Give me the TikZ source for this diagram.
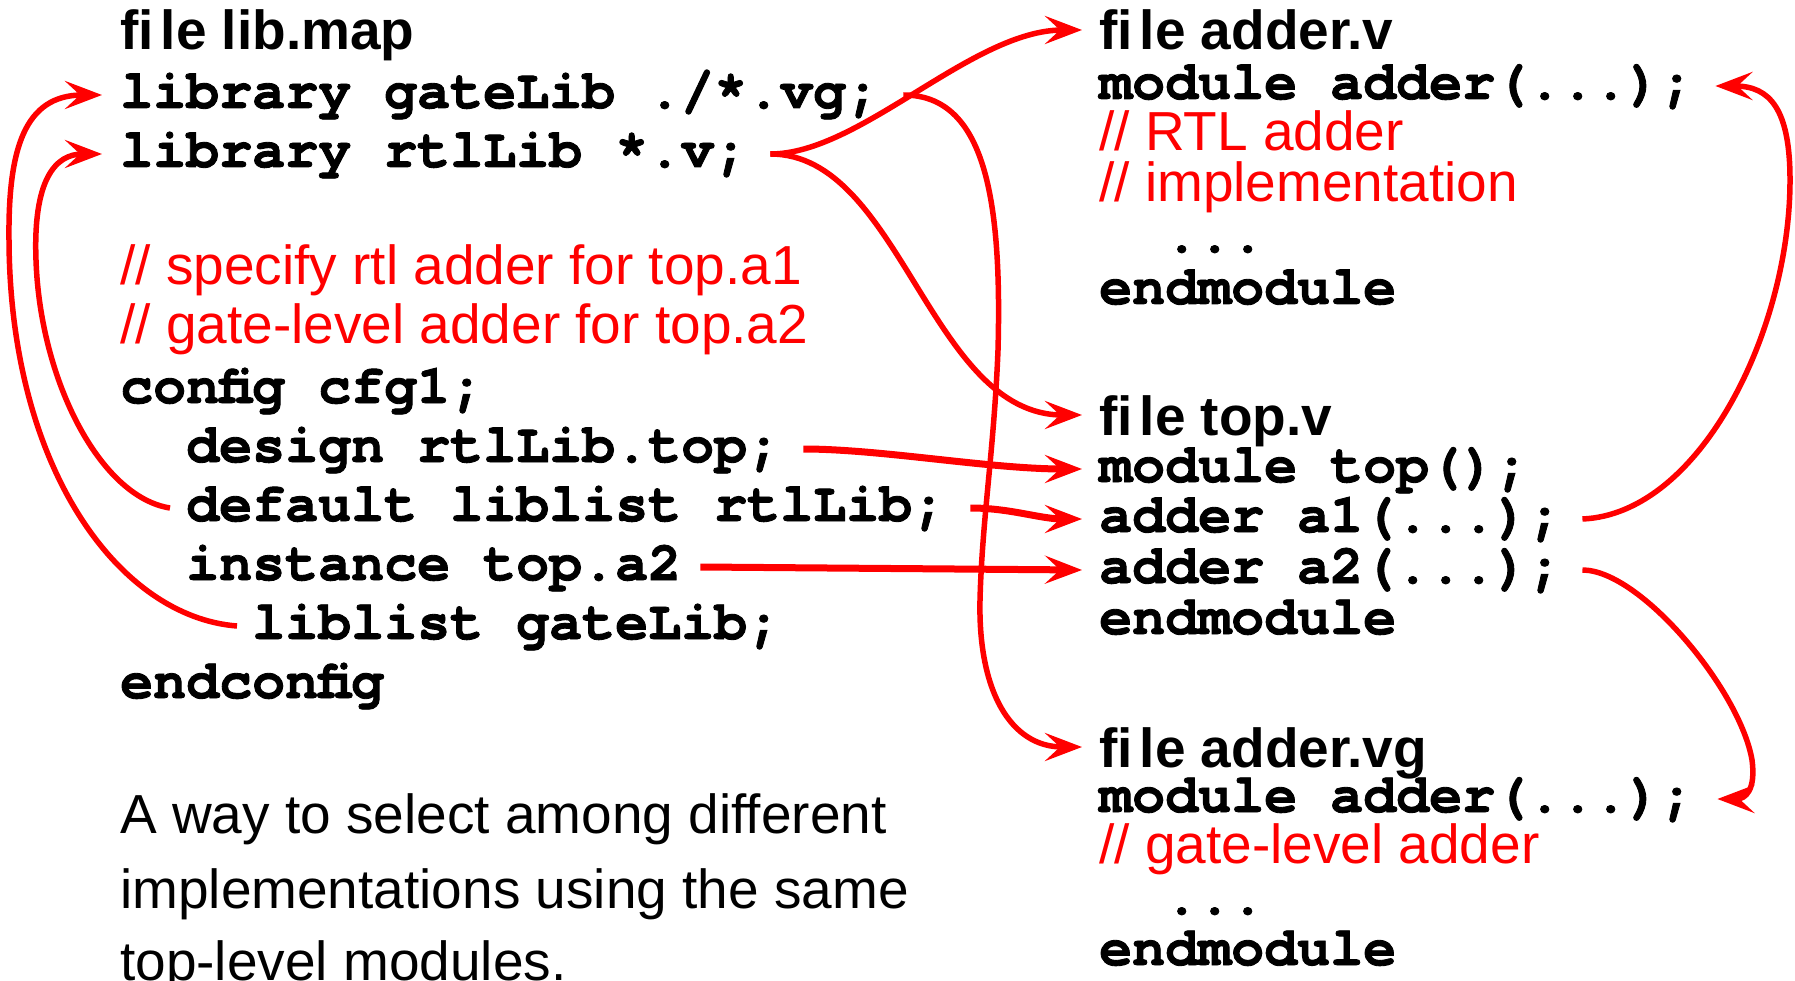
\documentclass[tikz,border=0pt]{standalone}
\usepackage{fontspec}
\usetikzlibrary{arrows.meta}
\IfFontExistsTF{texgyrecursor-bold.otf}
  {\newfontfamily\codefont{texgyrecursor-bold.otf}[FakeBold=1.6]}
  {\newfontfamily\codefont{Liberation Mono}[UprightFont={* Bold}]}
\newfontfamily\sansfnt{Liberation Sans}
\tikzset{
  code/.style={font=\codefont\fontsize{55}{60}\selectfont, inner sep=0pt, anchor=base west, text height=26pt, text depth=0pt},
  ftitle/.style={font=\sansfnt\bfseries\fontsize{55}{60}\selectfont, inner sep=0pt, anchor=base west, text height=40pt, text depth=0pt},
  cmt/.style={font=\sansfnt\fontsize{55}{60}\selectfont, text=red, inner sep=0pt, anchor=base west, text height=40pt, text depth=0pt},
  prose/.style={font=\sansfnt\fontsize{55}{60}\selectfont, inner sep=0pt, anchor=base west},
  link/.style={draw=red, line width=5.5pt, -{Stealth[length=37pt,width=28pt,inset=15pt]}},
  boldlink/.style={link, line width=7pt}
}
\begin{document}
\begin{tikzpicture}[x=1pt,y=-1pt]
\fill[white] (0,0) rectangle (1795,981);
\useasboundingbox (0,0) rectangle (1795,981);
% left column
\node[ftitle] (tlib) at (120,50) {fi\kern7pt le lib.map};
\node[code] (lg) at (120,108) {library gateLib ./*.vg;};
\node[code] (lr) at (120,167) {library rtlLib *.v;};
\node[cmt] (c1) at (120,285) {// specify rtl adder for top.a1};
\node[cmt] (c2) at (120,344) {// gate-level adder for top.a2};
\node[code] (cfg) at (120,403) {config cfg1;};
\node[code] (des) at (186,462) {design rtlLib.top;};
\node[code] (def) at (186,521) {default liblist rtlLib;};
\node[code] (inst) at (186,580) {instance top.a2};
\node[code] (ll) at (252,639) {liblist gateLib;};
\node[code] (endc) at (120,698) {endconfig};
\node[prose] (p1) at (120,833) {A way to select among different};
\node[prose] (p2) at (120,908) {implementations using the same};
\node[prose] (p3) at (120,980) {top-level modules.};
% right column
\node[ftitle] (tav) at (1099,50) {fi\kern7pt le adder.v};
\node[code] (mav) at (1099,99) {module adder(...);};
\node[cmt] (rtla) at (1099,151) {// RTL adder};
\node[cmt] (rtlb) at (1099,202) {// implementation};
\node[code] (dotsa) at (1165,252) {...};
\node[code] (ema) at (1099,304) {endmodule};
\node[ftitle] (ttop) at (1099,435) {fi\kern7pt le top.v};
\node[code] (mtop) at (1099,482) {module top();};
\node[code] (aone) at (1099,532) {adder a1(...);};
\node[code] (atwo) at (1099,583) {adder a2(...);};
\node[code] (emb) at (1099,634) {endmodule};
\node[ftitle] (tavg) at (1099,767) {fi\kern7pt le adder.vg};
\node[code] (mavg) at (1099,812) {module adder(...);};
\node[cmt] (gla) at (1099,863) {// gate-level adder};
\node[code] (dotsb) at (1165,914) {...};
\node[code] (emc) at (1099,965) {endmodule};
% via points
\coordinate (v1) at (998,350);
\coordinate (v2) at (980,600);
\coordinate (w1) at (1790,180);
\coordinate (w2) at (1752,760);
\coordinate (w3) at (36,260);
\coordinate (w4) at (9,240);
% connectors
\draw[link] ([xshift=23pt]lr.east) .. controls +(90,0) and +(-110,0) .. ([xshift=-17pt]tav.west);
\draw[link] ([xshift=23pt]lr.east) .. controls +(130,0) and +(-152,0) .. ([xshift=-17pt]ttop.west);
\draw[link] ([xshift=24pt]lg.east) .. controls +(82,0) and +(4,-150) .. (v1)
  .. controls +(-4,100) and +(2,-80) .. (v2)
  .. controls +(-2,90) and +(-72,0) .. ([xshift=-17pt]tavg.west);
\draw[boldlink] ([xshift=23pt]des.east) .. controls +(77,0) and +(-92,0) .. ([xshift=-17pt]mtop.west);
\draw[boldlink] ([xshift=25pt]def.east) .. controls +(40,0) and +(-42,0) .. ([xshift=-17pt]aone.west);
\draw[boldlink] ([xshift=19pt]inst.east) -- ([xshift=-17pt]atwo.west);
\draw[link] ([xshift=21pt]aone.east) .. controls +(118,-5) and +(0,150) .. (w1)
  .. controls +(0,-70) and +(55,0) .. ([xshift=22pt]mav.east);
\draw[link] ([xshift=21pt]atwo.east) .. controls +(58,0) and +(-12,-70) .. (w2)
  .. controls +(4,30) and +(28,0) .. ([xshift=24pt]mavg.east);
\draw[link] ([xshift=-16pt]def.west) .. controls +(-70,-11) and +(4,120) .. (w3)
  .. controls +(-3,-80) and +(-47,0) .. ([xshift=-18pt]lr.west);
\draw[link] ([xshift=-15pt]ll.west) .. controls +(-117,-9) and +(1,230) .. (w4)
  .. controls +(-1,-90) and +(-78,0) .. ([xshift=-18pt]lg.west);
\end{tikzpicture}
\end{document}
